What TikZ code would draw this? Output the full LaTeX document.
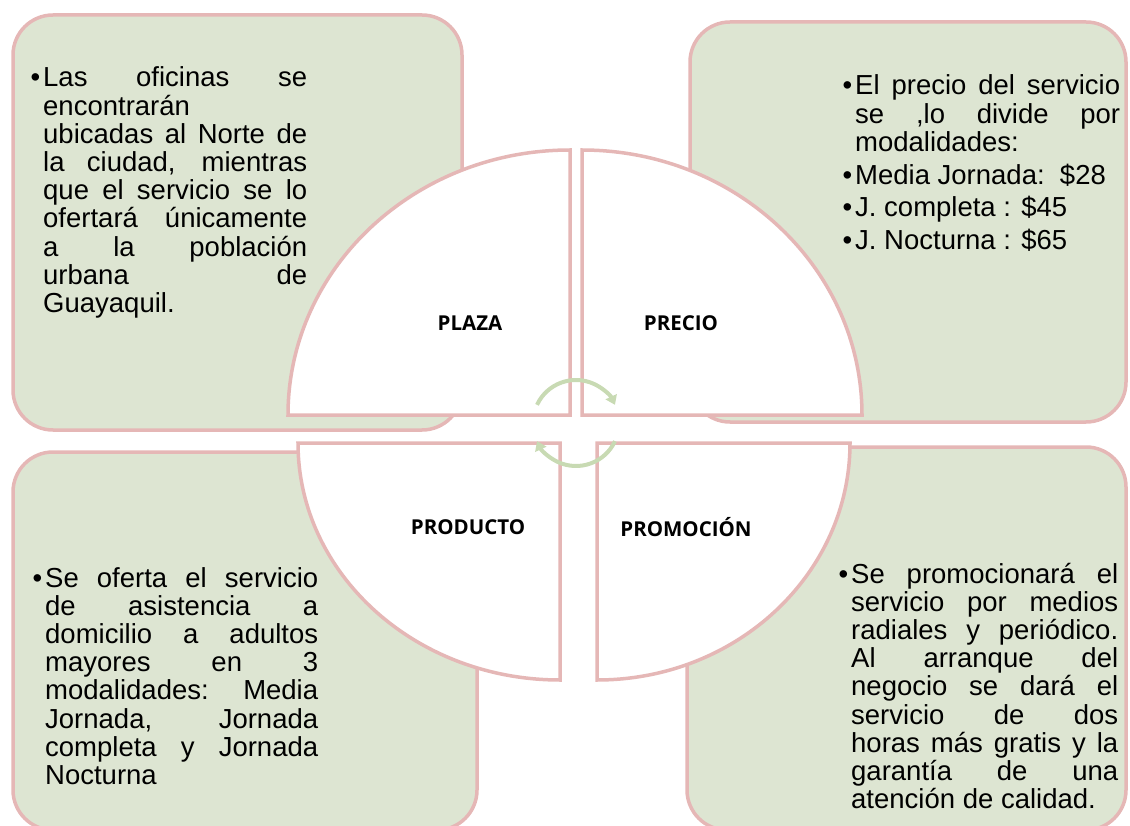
\documentclass[tikz,border=0pt]{standalone}
\usepackage{fontspec}
\setmainfont{Liberation Sans}
\newfontfamily\labelfont{Open Sans}
\usetikzlibrary{arrows.meta}

\definecolor{sage}{HTML}{DDE5D2}
\definecolor{rosa}{HTML}{E5B7B6}
\definecolor{leaf}{HTML}{C8DAB3}

\tolerance=10000
\hyphenpenalty=10000
\newcommand{\itembullet}{\leavevmode\llap{•\hspace{3pt}}}
\newcommand{\infopar}[2]{\parbox[t]{#1}{\tolerance=10000\relax\hyphenpenalty=10000\relax #2}}

\begin{document}
\begin{tikzpicture}[
    x=1pt, y=-1pt,
    infobox/.style={draw=rosa, fill=sage, line width=3.5pt, rounded corners=40pt, rectangle, inner sep=0pt},
    piece/.style={draw=rosa, fill=white, line width=3.5pt},
    piecelabel/.style={font=\labelfont\bfseries\fontsize{20.5}{24}\selectfont, inner sep=0pt},
    infotext/.style={anchor=base west, inner sep=0pt, font=\fontsize{27.5}{28.2}\selectfont},
    cycarrow/.style={draw=leaf, line width=4pt, -{Triangle[length=9pt,width=12pt]}}
]
    \useasboundingbox (0,0) rectangle (1130,826);

    % Boxes
    \node[infobox, minimum width=449pt, minimum height=415pt] (plazabox) at (237.5,222.5) {};
    \node[infobox, minimum width=436pt, minimum height=400pt] (preciobox) at (908,222) {};
    \node[infobox, minimum width=464pt, minimum height=378pt] (productobox) at (245,641) {};
    \node[infobox, minimum width=439pt, minimum height=383pt] (promocionbox) at (906.5,638.5) {};

    % Quarter pieces
    \draw[piece] (570,415) -- (288,415) arc[start angle=180, end angle=270, x radius=282, y radius=265] -- cycle;
    \draw[piece] (582,415) -- (582,150) arc[start angle=270, end angle=360, x radius=280, y radius=265] -- cycle;
    \draw[piece] (560,443) -- (298,443) arc[start angle=180, end angle=90, x radius=262, y radius=237] -- cycle;
    \draw[piece] (597,443) -- (850,443) arc[start angle=0, end angle=90, x radius=253, y radius=237] -- cycle;

    % Cycle arrows
    \coordinate (hub) at (576,423);
    \draw[cycarrow] ([shift={(205:43)}]hub) arc[start angle=205, end angle=335, radius=43];
    \draw[cycarrow] ([shift={(25:43)}]hub) arc[start angle=25, end angle=155, radius=43];

    % Labels
    \node[piecelabel] (plaza) at (470,323) {PLAZA};
    \node[piecelabel] (precio) at (681,323) {PRECIO};
    \node[piecelabel] (producto) at (468,527) {PRODUCTO};
    \node[piecelabel] (promocion) at (686,527) {PROMOCIÓN};

    % Texts
    \node[infotext] (plazatext) at (43,87) {\infopar{264pt}{\itembullet Las oficinas se\linebreak encontrarán\linebreak ubicadas al Norte de\linebreak la ciudad, mientras\linebreak que el servicio se lo\linebreak ofertará únicamente\linebreak a la población\linebreak urbana de\linebreak Guayaquil.}};
    \node[infotext] (preciotext) at (855,95) {\infopar{265pt}{\itembullet El precio del servicio\linebreak se ,lo divide por\linebreak modalidades:\par\vspace{4.5pt}
        \itembullet Media Jornada:~~\$28\par\vspace{4.5pt}
        \itembullet J. completa : \$45\par\vspace{4.5pt}
        \itembullet J. Nocturna : \$65}};
    \node[infotext] (productotext) at (45,587) {\infopar{273pt}{\itembullet Se oferta el servicio\linebreak de asistencia a\linebreak domicilio a adultos\linebreak mayores en 3\linebreak modalidades: Media\linebreak Jornada, Jornada\linebreak completa y Jornada\linebreak Nocturna}};
    \node[infotext] (promociontext) at (851,583) {\infopar{267pt}{\itembullet Se promocionará el\linebreak servicio por medios\linebreak radiales y periódico.\linebreak Al arranque del\linebreak negocio se dará el\linebreak servicio de dos\linebreak horas más gratis y la\linebreak garantía de una\linebreak atención de calidad.}};

\end{tikzpicture}
\end{document}
